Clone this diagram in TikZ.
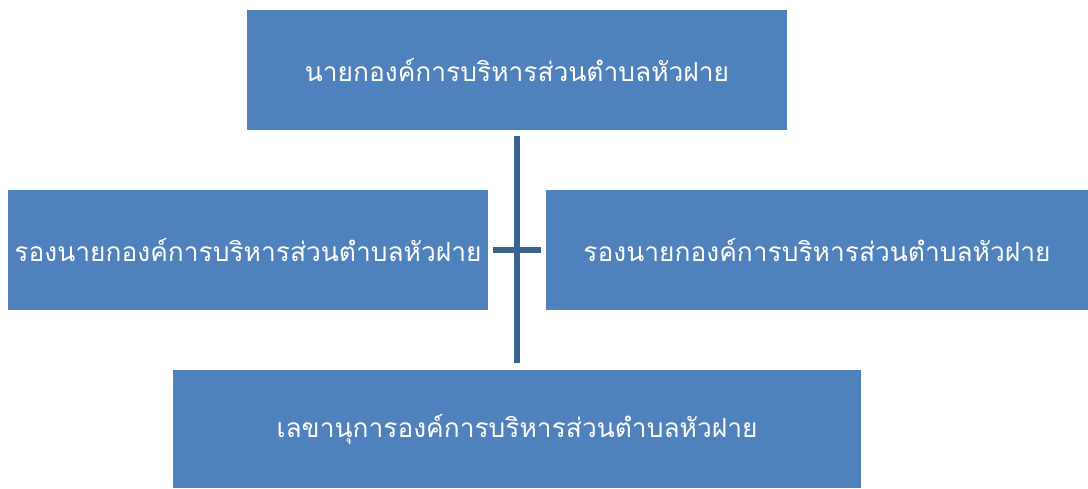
\documentclass[tikz,border=0pt]{standalone}
\usepackage{fontspec}
\newfontfamily\thaifont[Script=Thai]{Loma}
\definecolor{boxBlue}{RGB}{79,129,189}
\definecolor{lineBlue}{RGB}{60,98,146}
\begin{document}
\begin{tikzpicture}
[x=0.02cm,y=-0.02cm,
  boxDecorate/.style={shape=rectangle,fill=boxBlue,draw=none,inner sep=0pt,
    text=white,font=\thaifont\fontsize{15}{18}\selectfont},%
  linkDecorate/.style={-,line width=3.2pt,draw=lineBlue}]
\useasboundingbox (0,0) rectangle (1088,488);
%% boxes
\foreach \nodename/\x/\y/\w/\h/\label in {
  top/517/70/540/120/{นายกองค์การบริหารส่วนตำบลหัวฝาย},
  left/248/250/480/120/{รองนายกองค์การบริหารส่วนตำบลหัวฝาย},
  right/817/250/542/120/{รองนายกองค์การบริหารส่วนตำบลหัวฝาย},
  bottom/517/429/688/118/{เลขานุการองค์การบริหารส่วนตำบลหัวฝาย}}
{
  \node (\nodename) at (\x,\y) [boxDecorate,minimum width=\w*0.02cm,
    minimum height=\h*0.02cm] {\label};
}
%% connectors
\draw[linkDecorate] ([yshift=-0.12cm]top.south) -- ([yshift=0.14cm]bottom.north);
\draw[linkDecorate] ([xshift=0.1cm]left.east) -- ([xshift=-0.1cm]right.west);
\end{tikzpicture}
\end{document}
